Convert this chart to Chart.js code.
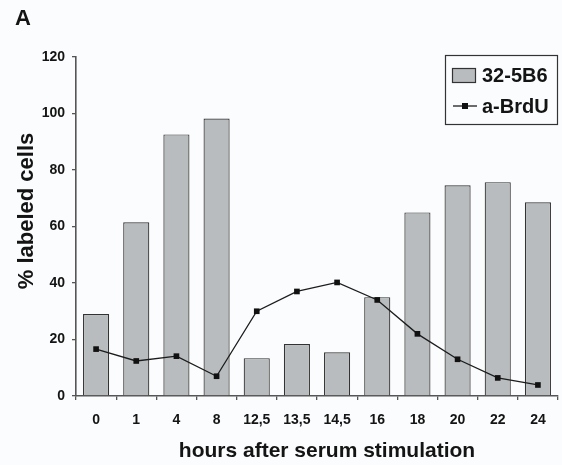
<!DOCTYPE html>
<html>
<head>
<meta charset="utf-8">
<script src="https://cdn.jsdelivr.net/npm/chart.js@4.4.0/dist/chart.umd.min.js"></script>
<style>
  html, body { margin: 0; padding: 0; background: #fbfcfd; }
  #grafico { display: block; }
</style>
</head>
<body>
<canvas id="grafico" width="562" height="465"></canvas>
<script>
// Horas após estimulação com soro
const horas = ['0', '1', '4', '8', '12,5', '13,5', '14,5', '16', '18', '20', '22', '24'];

// % de células marcadas
const valores32_5B6 = [29, 61.5, 92.6, 98.2, 13.4, 18.4, 15.5, 35, 65, 74.6, 75.7, 68.6];
const valoresBrdU = [16.6, 12.4, 14.1, 7, 30, 37, 40.2, 34, 22, 13, 6.4, 3.9];

// Marcas do eixo y
const ticksY = [0, 20, 40, 60, 80, 100, 120];

const FONTE = '"Liberation Sans", Arial, sans-serif';
const COR_TEXTO = '#141414';
const COR_EIXO = '#555';

Chart.defaults.font.family = FONTE;
Chart.defaults.font.weight = 'bold';
Chart.defaults.color = COR_TEXTO;

// Textos fixos e legenda desenhados à mão
const textos = {
  id: 'textos',
  afterDraw(chart) {
    const ctx = chart.ctx;
    const ds = chart.data.datasets;
    ctx.save();
    ctx.fillStyle = COR_TEXTO;
    ctx.textBaseline = 'alphabetic';

    ctx.font = 'bold 22px ' + FONTE;
    ctx.textAlign = 'left';
    ctx.fillText('A', 15, 25);

    // título do eixo y
    ctx.save();
    ctx.translate(33, 211);
    ctx.rotate(-Math.PI / 2);
    ctx.textAlign = 'center';
    ctx.font = 'bold 22px ' + FONTE;
    ctx.fillText('% labeled cells', 0, 0);
    ctx.restore();

    // título do eixo x
    ctx.textAlign = 'center';
    ctx.font = 'bold 21px ' + FONTE;
    ctx.fillText('hours after serum stimulation', 327, 457);

    // legenda
    ctx.strokeStyle = '#333';
    ctx.lineWidth = 1.2;
    ctx.strokeRect(445.5, 55.5, 112, 69);

    ctx.fillStyle = ds[1].backgroundColor;
    ctx.fillRect(452, 68, 23, 14);
    ctx.strokeStyle = ds[1].borderColor;
    ctx.strokeRect(452.5, 68.5, 23, 14);

    ctx.strokeStyle = ds[0].borderColor;
    ctx.lineWidth = 1.3;
    ctx.beginPath();
    ctx.moveTo(453, 106);
    ctx.lineTo(477, 106);
    ctx.stroke();
    ctx.fillStyle = ds[0].pointBackgroundColor;
    ctx.fillRect(462, 103, 6, 6);

    ctx.fillStyle = COR_TEXTO;
    ctx.textAlign = 'left';
    ctx.font = 'bold 20px ' + FONTE;
    ctx.fillText(ds[1].label, 482, 82);
    ctx.fillText(ds[0].label, 482, 113);
    ctx.restore();
  }
};

const ctx = document.getElementById('grafico').getContext('2d');
const grafico = new Chart(ctx, {
  data: {
    labels: horas,
    datasets: [
      {
        type: 'line',
        label: 'a-BrdU',
        data: valoresBrdU,
        order: 1,
        borderColor: '#1c1c1c',
        borderWidth: 1.3,
        pointStyle: 'rect',
        pointRadius: 4,
        pointBackgroundColor: '#111',
        pointBorderColor: '#111',
        pointBorderWidth: 0,
        tension: 0
      },
      {
        type: 'bar',
        label: '32-5B6',
        data: valores32_5B6,
        order: 2,
        backgroundColor: '#b9bcbe',
        borderColor: '#333',
        borderWidth: 1.2,
        barPercentage: 0.65,
        categoryPercentage: 1
      }
    ]
  },
  options: {
    responsive: false,
    animation: false,
    devicePixelRatio: 1,
    layout: { padding: { top: 57, right: 4, left: 0, bottom: 0 } },
    plugins: {
      legend: { display: false },
      tooltip: { enabled: false }
    },
    scales: {
      x: {
        offset: true,
        grid: {
          offset: true,
          drawOnChartArea: false,
          drawTicks: true,
          tickLength: 4,
          color: COR_EIXO,
          lineWidth: 1.3
        },
        border: { display: true, color: COR_EIXO, width: 1.6 },
        ticks: { padding: 12, font: { size: 14, weight: 'bold' }, color: COR_TEXTO, maxRotation: 0 },
        afterFit(scale) { scale.height = 69; }
      },
      y: {
        min: 0,
        max: 120,
        afterBuildTicks(scale) { scale.ticks = ticksY.map(v => ({ value: v })); },
        grid: {
          drawOnChartArea: false,
          drawTicks: true,
          tickLength: 4,
          color: COR_EIXO,
          lineWidth: 1.3
        },
        border: { display: true, color: COR_EIXO, width: 1.6 },
        ticks: { padding: 7, font: { size: 14, weight: 'bold' }, color: COR_TEXTO },
        afterFit(scale) { scale.width = 76; }
      }
    }
  },
  plugins: [textos]
});
</script>
</body>
</html>
